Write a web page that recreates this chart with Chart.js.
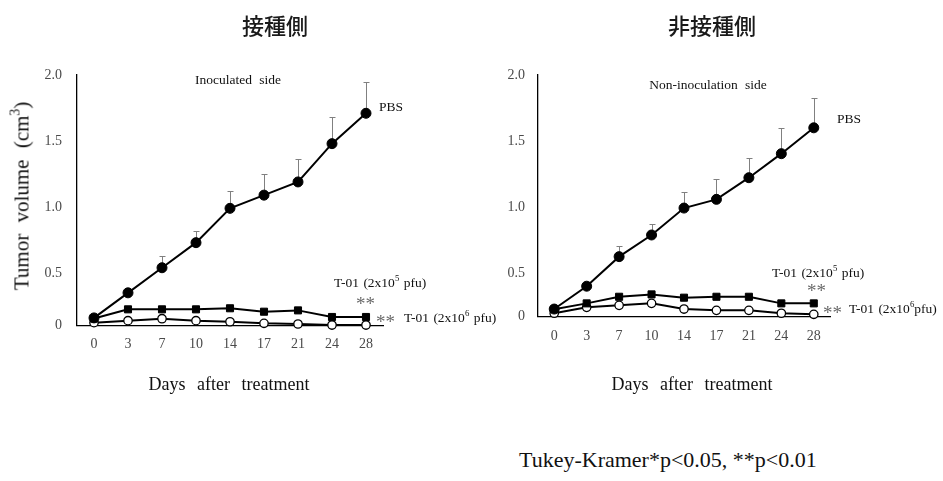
<!DOCTYPE html>
<html>
<head>
<meta charset="utf-8">
<script src="https://cdn.jsdelivr.net/npm/chart.js@4.4.1/dist/chart.umd.min.js"></script>
<style>
  html, body { margin: 0; padding: 0; background: #fff; }
  #wrap { position: relative; width: 943px; height: 481px; overflow: hidden; font-family: "Liberation Serif", "Times New Roman", serif; color: #111; }
  canvas { position: absolute; top: 0; }
  .t { position: absolute; white-space: nowrap; line-height: 1; }
  .c { transform: translate(-50%, -50%); }
  .l { transform: translate(0, -50%); }
  .title { font-family: "Noto Sans CJK JP", sans-serif; font-size: 22px; font-weight: 500; color: #1a1a1a; }
  .ann { font-size: 13.5px; word-spacing: 1px; }
  .star { font-size: 19px; color: #6a6a6a; }
  .axt { font-size: 18px; word-spacing: 7px; }
  sup { font-size: 65%; line-height: 0; position: relative; top: -0.05em; }
</style>
</head>
<body>
<div id="wrap">
  <canvas id="c1" width="480" height="400" style="left:0px;width:480px;height:400px;"></canvas>
  <canvas id="c2" width="463" height="400" style="left:480px;width:463px;height:400px;"></canvas>

  <div class="t c title" style="left:275px;top:24px;">接種側</div>
  <div class="t c title" style="left:712px;top:24px;">非接種側</div>

  <div class="t c" style="left:22px;top:196px;font-size:21px;word-spacing:6px;transform:translate(-50%,-50%) rotate(-90deg);">Tumor volume (cm<sup>3</sup>)</div>

  <div class="t c axt" style="left:229px;top:384px;">Days after treatment</div>
  <div class="t c axt" style="left:692px;top:384px;">Days after treatment</div>

  <div class="t c ann" style="left:238px;top:80px;word-spacing:4px;">Inoculated side</div>
  <div class="t l ann" style="left:379px;top:107px;">PBS</div>
  <div class="t l ann" style="left:334px;top:283px;">T-01 (2x10<sup>5</sup> pfu)</div>
  <div class="t l star" style="left:356px;top:303px;">**</div>
  <div class="t l star" style="left:376px;top:321px;">**</div>
  <div class="t l ann" style="left:404px;top:318px;">T-01 (2x10<sup>6</sup> pfu)</div>

  <div class="t c ann" style="left:708px;top:85px;word-spacing:4px;">Non-inoculation side</div>
  <div class="t l ann" style="left:837px;top:119px;">PBS</div>
  <div class="t l ann" style="left:772px;top:273px;">T-01 (2x10<sup>5</sup> pfu)</div>
  <div class="t l star" style="left:807px;top:290px;">**</div>
  <div class="t l star" style="left:823px;top:312px;">**</div>
  <div class="t l ann" style="left:849px;top:309px;">T-01 (2x10<sup>6</sup>pfu)</div>

  <div class="t l" style="left:519px;top:460px;font-size:22px;">Tukey-Kramer*p&lt;0.05, **p&lt;0.01</div>
</div>

<script>
// ---- data ----
const days = ['0', '3', '7', '10', '14', '17', '21', '24', '28'];

// Inoculated side (接種側)
const pbsInoc     = [0.16, 0.35, 0.54, 0.73, 0.99, 1.09, 1.19, 1.48, 1.71];
const pbsInocErr  = [0, 0.03, 0.09, 0.09, 0.13, 0.16, 0.17, 0.20, 0.235];
const t01LowInoc  = [0.155, 0.225, 0.225, 0.225, 0.233, 0.207, 0.217, 0.167, 0.167];
const t01HighInoc = [0.124, 0.139, 0.154, 0.139, 0.131, 0.119, 0.114, 0.106, 0.106];
const yTicksInoc  = [0.104, 0.5, 1.0, 1.5, 2.0];

// Non-inoculation side (非接種側)
const pbsNon      = [0.227, 0.40, 0.624, 0.788, 0.992, 1.058, 1.222, 1.404, 1.60];
const pbsNonErr   = [0, 0.03, 0.081, 0.086, 0.124, 0.152, 0.147, 0.192, 0.223];
const t01LowNon   = [0.225, 0.27, 0.32, 0.338, 0.313, 0.32, 0.32, 0.27, 0.27];
const t01HighNon  = [0.195, 0.24, 0.255, 0.27, 0.227, 0.217, 0.217, 0.195, 0.187];
const yTicksNon   = [0.169, 0.5, 1.0, 1.5, 2.0];

const yTickLabels = ['0', '0.5', '1.0', '1.5', '2.0'];

// ---- error bar plugin (upper bars only) ----
const errorBars = {
  id: 'errorBars',
  beforeDatasetsDraw(chart) {
    const ctx = chart.ctx;
    const ys = chart.scales.y;
    chart.data.datasets.forEach((ds, di) => {
      if (!ds.errUp) return;
      const meta = chart.getDatasetMeta(di);
      ctx.save();
      ctx.strokeStyle = '#808080';
      ctx.lineWidth = 1;
      meta.data.forEach((pt, i) => {
        const e = ds.errUp[i];
        if (!e) return;
        const yTop = ys.getPixelForValue(ds.data[i] + e);
        const x = Math.round(pt.x) + 0.5;
        ctx.beginPath();
        ctx.moveTo(x, pt.y);
        ctx.lineTo(x, Math.round(yTop) + 0.5);
        ctx.moveTo(x - 3, Math.round(yTop) + 0.5);
        ctx.lineTo(x + 3, Math.round(yTop) + 0.5);
        ctx.stroke();
      });
      ctx.restore();
    });
  }
};

function makeChart(id, pbs, pbsErr, low, high, yTicks, opts) {
  const tickFont = { family: '"Liberation Serif", "Times New Roman", serif', size: 14 };
  return new Chart(document.getElementById(id), {
    type: 'line',
    data: {
      labels: days,
      datasets: [
        { label: 'T-01 (2x10^6 pfu)', data: high, borderColor: '#000', borderWidth: 2,
          pointStyle: 'circle', pointRadius: 4.2, pointBackgroundColor: '#fff', pointBorderColor: '#000',
          pointBorderWidth: 1.3, clip: false, tension: 0, order: 3 },
        { label: 'T-01 (2x10^5 pfu)', data: low, borderColor: '#000', borderWidth: 2,
          pointStyle: 'rect', pointRadius: 5, pointBackgroundColor: '#000', pointBorderColor: '#000',
          pointBorderWidth: 1, clip: false, tension: 0, order: 2 },
        { label: 'PBS', data: pbs, errUp: pbsErr, borderColor: '#000', borderWidth: 2,
          pointStyle: 'circle', pointRadius: 5, pointBackgroundColor: '#000', pointBorderColor: '#000',
          pointBorderWidth: 1, clip: false, tension: 0, order: 1 }
      ]
    },
    options: {
      responsive: false,
      animation: false,
      layout: { padding: { top: 75, right: opts.padRight, bottom: 0, left: 0 } },
      plugins: { legend: { display: false }, tooltip: { enabled: false } },
      scales: {
        x: {
          type: 'category',
          offset: true,
          grid: { display: false, drawTicks: false },
          border: { display: true, color: '#000', width: 1.3 },
          ticks: { color: '#4a4a4a', font: tickFont, padding: 11, maxRotation: 0, autoSkip: false },
          afterFit(s) { s.height = opts.xHeight; }
        },
        y: {
          type: 'linear',
          min: yTicks[0],
          max: yTicks[yTicks.length - 1],
          grid: { display: false, drawTicks: false },
          border: { display: true, color: '#000', width: 1.3 },
          ticks: {
            color: '#4a4a4a', font: tickFont, padding: opts.yPad,
            callback: (v) => { const i = yTicks.indexOf(v); return i >= 0 ? yTickLabels[i] : ''; }
          },
          afterBuildTicks(s) { s.ticks = yTicks.map(v => ({ value: v })); },
          afterFit(s) { s.width = opts.yWidth; }
        }
      }
    },
    plugins: [errorBars]
  });
}

makeChart('c1', pbsInoc, pbsInocErr, t01LowInoc, t01HighInoc, yTicksInoc,
  { padRight: 97, xHeight: 74.7, yWidth: 77, yPad: 15 });
makeChart('c2', pbsNon, pbsNonErr, t01LowNon, t01HighNon, yTicksNon,
  { padRight: 113, xHeight: 83.3, yWidth: 58, yPad: 13 });
</script>
</body>
</html>
